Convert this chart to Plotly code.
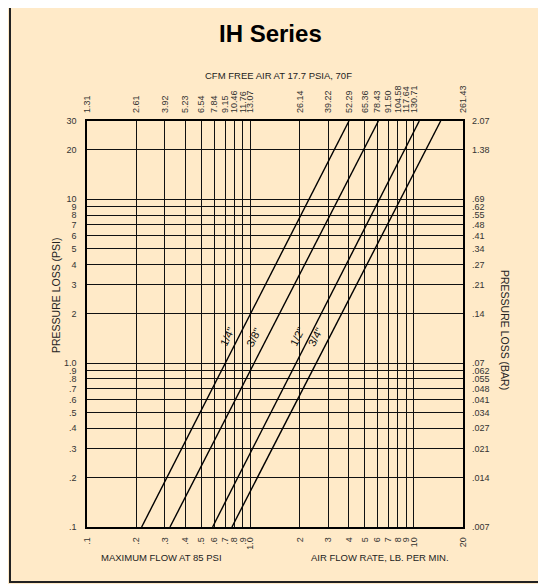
import math
import plotly.graph_objects as go

# ---------------- data ----------------
flow_ticks = [0.1, 0.2, 0.3, 0.4, 0.5, 0.6, 0.7, 0.8, 0.9, 1.0,
              2, 3, 4, 5, 6, 7, 8, 9, 10, 20]
flow_labels = [".1", ".2", ".3", ".4", ".5", ".6", ".7", ".8", ".9", "1.0",
               "2", "3", "4", "5", "6", "7", "8", "9", "10", "20"]
cfm_labels = ["1.31", "2.61", "3.92", "5.23", "6.54", "7.84", "9.15", "10.46", "11.76", "13.07",
              "26.14", "39.22", "52.29", "65.36", "78.43", "91.50", "104.58", "117.64", "130.71", "261.43"]

psi_ticks = [0.1, 0.2, 0.3, 0.4, 0.5, 0.6, 0.7, 0.8, 0.9, 1.0,
             2, 3, 4, 5, 6, 7, 8, 9, 10, 20, 30]
psi_labels = [".1", ".2", ".3", ".4", ".5", ".6", ".7", ".8", ".9", "1.0",
              "2", "3", "4", "5", "6", "7", "8", "9", "10", "20", "30"]
bar_labels = [".007", ".014", ".021", ".027", ".034", ".041", ".048", ".055", ".062", ".07",
              ".14", ".21", ".27", ".34", ".41", ".48", ".55", ".62", ".69", "1.38", "2.07"]

sizes = ['1/4"', '3/8"', '1/2"', '3/4"']
# flow (lb/min) where each size line crosses the bottom (0.1 psi) and top (30 psi)
line_psi = [0.1, 30]
flow_at_low = [0.216, 0.322, 0.587, 0.771]
flow_at_high = [4.01, 6.07, 10.8, 14.6]
# label anchor points (flow, psi)
label_flow = [0.72, 1.05, 1.93, 2.50]
label_psi = [1.44, 1.44, 1.44, 1.44]

# ---------------- layout geometry ----------------
OFF = 8  # page body margin
W, H = 546 - OFF, 584 - OFF
L, R, T, B = 87, 463, 121, 527   # plot area in page pixels

def px(x):
    return (x - L) / (R - L)

def py(y):
    return (B - y) / (B - T)

BG = "#FFEAC8"
INK = "#111111"
FONT = "Liberation Sans, Arial, Helvetica, sans-serif"

fig = go.Figure()

for i, s in enumerate(sizes):
    fig.add_trace(go.Scatter(
        x=[flow_at_low[i], flow_at_high[i]], y=line_psi,
        mode="lines", line=dict(color="#000000", width=1.4),
        showlegend=False, hoverinfo="skip", cliponaxis=True,
    ))

# invisible trace to activate secondary axes
fig.add_trace(go.Scatter(x=[flow_ticks[0]], y=[psi_ticks[0]], xaxis="x2", yaxis="y2",
                         mode="markers", marker=dict(opacity=0), showlegend=False,
                         hoverinfo="skip"))

xr = [math.log10(0.1), math.log10(20)]
yr = [math.log10(0.1), math.log10(30)]

tickfont = dict(family=FONT, size=9, color="#333333")

fig.update_layout(
    width=W, height=H,
    margin=dict(l=L - OFF, r=546 - R, t=T - OFF, b=584 - B),
    paper_bgcolor=BG, plot_bgcolor=BG,
    showlegend=False,
    xaxis=dict(type="log", range=xr, tickmode="array", tickvals=flow_ticks,
               ticktext=flow_labels, tickangle=-90, tickfont=tickfont,
               showgrid=True, gridcolor=INK, gridwidth=1.2,
               showline=True, linecolor="#000000", linewidth=1.5, mirror=True,
               zeroline=False, ticks="", ticklabelstandoff=5, automargin=False),
    xaxis2=dict(type="log", range=xr, overlaying="x", side="top", tickmode="array",
                tickvals=flow_ticks, ticktext=cfm_labels, tickangle=-90, tickfont=tickfont,
                showgrid=False, showline=False, zeroline=False, ticks="",
                ticklabelstandoff=7, automargin=False),
    yaxis=dict(type="log", range=yr, tickmode="array", tickvals=psi_ticks,
               ticktext=psi_labels, tickfont=tickfont,
               showgrid=True, gridcolor=INK, gridwidth=1.2,
               showline=True, linecolor="#000000", linewidth=1.5, mirror=True,
               zeroline=False, ticks="", ticklabelstandoff=7, automargin=False),
    yaxis2=dict(type="log", range=yr, overlaying="y", side="right", tickmode="array",
                tickvals=psi_ticks, ticktext=bar_labels, tickfont=tickfont,
                showgrid=False, showline=False, zeroline=False, ticks="",
                ticklabelstandoff=8, automargin=False),
)

# size labels along the lines
for i, s in enumerate(sizes):
    fig.add_annotation(x=math.log10(label_flow[i]), y=math.log10(label_psi[i]),
                       xref="x", yref="y", text=s, showarrow=False, textangle=-63,
                       font=dict(family=FONT, size=11, color="#111111"))

# text annotations
def note(text, x, y, size=10, angle=0, color="#222222"):
    fig.add_annotation(xref="paper", yref="paper", x=px(x), y=py(y), text=text,
                       showarrow=False, textangle=angle, xanchor="center", yanchor="middle",
                       font=dict(family=FONT, size=size, color=color))

note("<b>IH Series</b>", 270, 33, size=24, color="#000000")
note("CFM FREE AIR AT 17.7 PSIA, 70F", 278, 75, size=9.5)
note("MAXIMUM FLOW AT 85 PSI", 161, 557, size=9.5)
note("AIR FLOW RATE, LB. PER MIN.", 380, 557, size=9.5)
note("PRESSURE LOSS (PSI)", 56, 295, size=10.5, angle=-90)
note("PRESSURE LOSS (BAR)", 505, 330, size=10.5, angle=90)

# outer frame
fig.add_shape(type="rect", xref="paper", yref="paper",
              x0=px(10), x1=px(560), y0=py(582), y1=py(3),
              line=dict(color="#222222", width=2), fillcolor="rgba(0,0,0,0)", layer="above")

fig.write_html("out.html")
